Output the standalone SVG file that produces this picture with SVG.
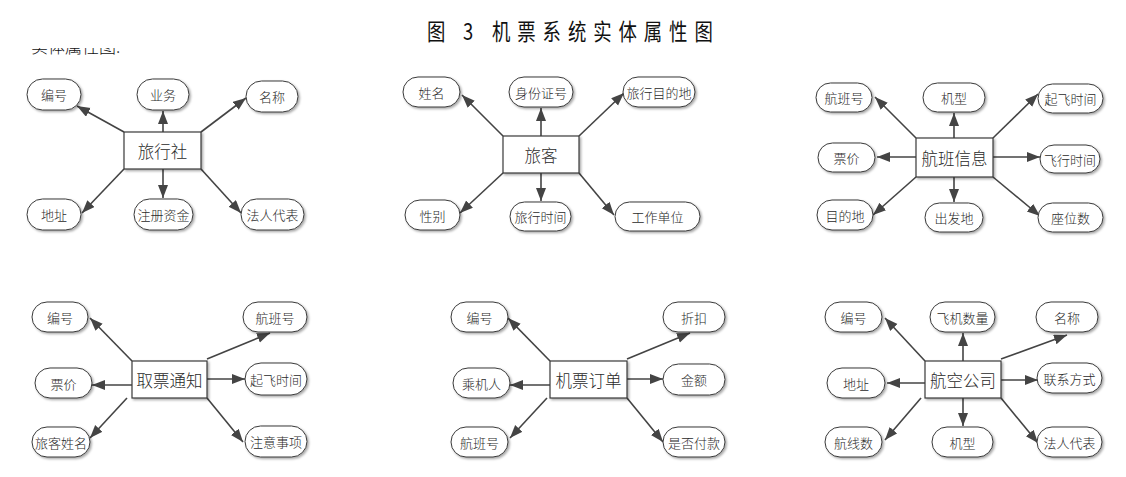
<svg xmlns="http://www.w3.org/2000/svg" width="1126" height="477" viewBox="0 0 1126 477">
<defs>
<style>
.attr rect{fill:#fff;stroke:#3a3a3a;stroke-width:1;filter:url(#sh)}
.ent rect{fill:#fff;stroke:#3a3a3a;stroke-width:1.2;filter:url(#sh)}
text{font-family:"Noto Sans CJK SC","Noto Sans",sans-serif;fill:#2a2a2a;text-anchor:middle;dominant-baseline:central;font-weight:300}
.attr text{font-size:13px}
.ent text{font-size:16.5px}
#connectors line{stroke:#444;stroke-width:1.6;marker-end:url(#ah)}
</style>
<filter id="sh" x="-20%" y="-20%" width="140%" height="150%">
<feDropShadow dx="1.5" dy="1.5" stdDeviation="0.8" flood-color="#000" flood-opacity="0.35"/>
</filter>
<marker id="ah" markerUnits="userSpaceOnUse" markerWidth="14" markerHeight="12" refX="13" refY="5" orient="auto">
<path d="M0,0 L13,5 L0,10 z" fill="#444"/>
</marker>
<clipPath id="cut"><rect x="0" y="48" width="200" height="12"/></clipPath>
</defs>

<text transform="scale(0.8,1)" x="533.75 558.75 578.75 593.75 615 646.6 678.25 709.9 741.5 773.1 804.75 836.4 868" y="40" style="font-size:23px;text-anchor:start;dominant-baseline:alphabetic;fill:#111;font-weight:400">图 3 机票系统实体属性图</text>
<text x="31" y="53" clip-path="url(#cut)" style="font-size:17px;text-anchor:start;dominant-baseline:alphabetic;fill:#111">实体属性图:</text>

<g id="connectors">
<line x1="124" y1="132" x2="77" y2="106"/>
<line x1="163" y1="132" x2="163" y2="111"/>
<line x1="201" y1="132" x2="246" y2="98"/>
<line x1="124" y1="169" x2="82" y2="213"/>
<line x1="163" y1="169" x2="163" y2="198"/>
<line x1="201" y1="169" x2="241" y2="213"/>

<line x1="503" y1="136" x2="462" y2="95"/>
<line x1="541" y1="136" x2="541" y2="108"/>
<line x1="579" y1="136" x2="624" y2="93"/>
<line x1="503" y1="173" x2="460" y2="213"/>
<line x1="541" y1="173" x2="541" y2="201"/>
<line x1="579" y1="173" x2="614" y2="215"/>

<line x1="916" y1="138" x2="875" y2="97"/>
<line x1="954" y1="138" x2="954" y2="113"/>
<line x1="993" y1="138" x2="1038" y2="94"/>
<line x1="916" y1="157" x2="877" y2="157"/>
<line x1="993" y1="157" x2="1040" y2="157"/>
<line x1="916" y1="177" x2="873" y2="215"/>
<line x1="954" y1="177" x2="954" y2="202"/>
<line x1="993" y1="177" x2="1040" y2="216"/>

<line x1="132" y1="361" x2="90" y2="318"/>
<line x1="132" y1="385" x2="92" y2="385"/>
<line x1="127" y1="398" x2="90" y2="438"/>
<line x1="207" y1="359" x2="270" y2="333"/>
<line x1="207" y1="379" x2="245" y2="379"/>
<line x1="207" y1="398" x2="243" y2="442"/>

<line x1="550" y1="361" x2="508" y2="318"/>
<line x1="550" y1="385" x2="510" y2="385"/>
<line x1="547" y1="398" x2="510" y2="438"/>
<line x1="627" y1="359" x2="690" y2="333"/>
<line x1="627" y1="379" x2="663" y2="379"/>
<line x1="627" y1="398" x2="663" y2="442"/>

<line x1="925" y1="361" x2="885" y2="318"/>
<line x1="963" y1="361" x2="963" y2="333"/>
<line x1="1001" y1="359" x2="1067" y2="335"/>
<line x1="925" y1="383" x2="887" y2="383"/>
<line x1="1001" y1="380" x2="1038" y2="380"/>
<line x1="921" y1="398" x2="885" y2="440"/>
<line x1="963" y1="398" x2="963" y2="426"/>
<line x1="1001" y1="398" x2="1038" y2="443"/>
</g>

<!-- 旅行社 -->
<g id="e1" class="ent"><rect x="124" y="132" width="77" height="37"/><text x="162.5" y="150.5">旅行社</text></g>
<g id="e1a1" class="attr"><rect x="27" y="79" width="54" height="31" rx="15.5"/><text x="54" y="94.5">编号</text></g>
<g id="e1a2" class="attr"><rect x="137" y="79" width="52" height="31" rx="15.5"/><text x="163" y="94.5">业务</text></g>
<g id="e1a3" class="attr"><rect x="246" y="81" width="52" height="31" rx="15.5"/><text x="272" y="96.5">名称</text></g>
<g id="e1a4" class="attr"><rect x="27" y="199" width="54" height="31" rx="15.5"/><text x="54" y="214.5">地址</text></g>
<g id="e1a5" class="attr"><rect x="134" y="199" width="59" height="31" rx="15.5"/><text x="163.5" y="214.5">注册资金</text></g>
<g id="e1a6" class="attr"><rect x="241" y="199" width="63" height="31" rx="15.5"/><text x="272.5" y="214.5">法人代表</text></g>

<!-- 旅客 -->
<g id="e2" class="ent"><rect x="503" y="136" width="76" height="37"/><text x="541" y="154.5">旅客</text></g>
<g id="e2a1" class="attr"><rect x="403" y="77" width="57" height="30" rx="15"/><text x="431.5" y="92">姓名</text></g>
<g id="e2a2" class="attr"><rect x="509" y="77" width="64" height="30" rx="15"/><text x="541" y="92">身份证号</text></g>
<g id="e2a3" class="attr"><rect x="623" y="77" width="72" height="30" rx="15"/><text x="659" y="92">旅行目的地</text></g>
<g id="e2a4" class="attr"><rect x="405" y="200" width="55" height="30" rx="15"/><text x="432.5" y="215">性别</text></g>
<g id="e2a5" class="attr"><rect x="510" y="202" width="61" height="29" rx="14.5"/><text x="540.5" y="216.5">旅行时间</text></g>
<g id="e2a6" class="attr"><rect x="615" y="202" width="85" height="29" rx="14.5"/><text x="657.5" y="216.5">工作单位</text></g>

<!-- 航班信息 -->
<g id="e3" class="ent"><rect x="916" y="138" width="77" height="39"/><text x="954.5" y="157.5">航班信息</text></g>
<g id="e3a1" class="attr"><rect x="816" y="83" width="56" height="29" rx="14.5"/><text x="844" y="97.5">航班号</text></g>
<g id="e3a2" class="attr"><rect x="923" y="83" width="62" height="29" rx="14.5"/><text x="954" y="97.5">机型</text></g>
<g id="e3a3" class="attr"><rect x="1038" y="84" width="65" height="29" rx="14.5"/><text x="1070.5" y="98.5">起飞时间</text></g>
<g id="e3a4" class="attr"><rect x="818" y="143" width="57" height="29" rx="14.5"/><text x="846.5" y="157.5">票价</text></g>
<g id="e3a5" class="attr"><rect x="1040" y="145" width="60" height="28" rx="14"/><text x="1070" y="159">飞行时间</text></g>
<g id="e3a6" class="attr"><rect x="817" y="200" width="56" height="30" rx="15"/><text x="845" y="215">目的地</text></g>
<g id="e3a7" class="attr"><rect x="925" y="203" width="58" height="29" rx="14.5"/><text x="954" y="217.5">出发地</text></g>
<g id="e3a8" class="attr"><rect x="1038" y="203" width="65" height="29" rx="14.5"/><text x="1070.5" y="217.5">座位数</text></g>

<!-- 取票通知 -->
<g id="e4" class="ent"><rect x="132" y="361" width="75" height="37"/><text x="169.5" y="379.5">取票通知</text></g>
<g id="e4a1" class="attr"><rect x="32" y="302" width="56" height="30" rx="15"/><text x="60" y="317">编号</text></g>
<g id="e4a2" class="attr"><rect x="35" y="368" width="57" height="30" rx="15"/><text x="63.5" y="383">票价</text></g>
<g id="e4a3" class="attr"><rect x="32" y="427" width="58" height="30" rx="15"/><text x="61" y="442">旅客姓名</text></g>
<g id="e4a4" class="attr"><rect x="243" y="302" width="64" height="30" rx="15"/><text x="275" y="317">航班号</text></g>
<g id="e4a5" class="attr"><rect x="245" y="363" width="62" height="32" rx="16"/><text x="276" y="379">起飞时间</text></g>
<g id="e4a6" class="attr"><rect x="245" y="426" width="62" height="31" rx="15.5"/><text x="276" y="441.5">注意事项</text></g>

<!-- 机票订单 -->
<g id="e5" class="ent"><rect x="550" y="361" width="77" height="37"/><text x="588.5" y="379.5">机票订单</text></g>
<g id="e5a1" class="attr"><rect x="451" y="302" width="57" height="30" rx="15"/><text x="479.5" y="317">编号</text></g>
<g id="e5a2" class="attr"><rect x="453" y="368" width="57" height="30" rx="15"/><text x="481.5" y="383">乘机人</text></g>
<g id="e5a3" class="attr"><rect x="451" y="427" width="57" height="30" rx="15"/><text x="479.5" y="442">航班号</text></g>
<g id="e5a4" class="attr"><rect x="663" y="302" width="62" height="30" rx="15"/><text x="694" y="317">折扣</text></g>
<g id="e5a5" class="attr"><rect x="663" y="364" width="62" height="31" rx="15.5"/><text x="694" y="379.5">金额</text></g>
<g id="e5a6" class="attr"><rect x="663" y="427" width="62" height="30" rx="15"/><text x="694" y="442">是否付款</text></g>

<!-- 航空公司 -->
<g id="e6" class="ent"><rect x="925" y="361" width="76" height="37"/><text x="963" y="379.5">航空公司</text></g>
<g id="e6a1" class="attr"><rect x="825" y="302" width="57" height="30" rx="15"/><text x="853.5" y="317">编号</text></g>
<g id="e6a2" class="attr"><rect x="930" y="302" width="65" height="30" rx="15"/><text x="962.5" y="317">飞机数量</text></g>
<g id="e6a3" class="attr"><rect x="1036" y="302" width="62" height="30" rx="15"/><text x="1067" y="317">名称</text></g>
<g id="e6a4" class="attr"><rect x="827" y="368" width="58" height="30" rx="15"/><text x="856" y="383">地址</text></g>
<g id="e6a5" class="attr"><rect x="1037" y="363" width="65" height="30" rx="15"/><text x="1069.5" y="378">联系方式</text></g>
<g id="e6a6" class="attr"><rect x="825" y="427" width="57" height="30" rx="15"/><text x="853.5" y="442">航线数</text></g>
<g id="e6a7" class="attr"><rect x="932" y="427" width="61" height="30" rx="15"/><text x="962.5" y="442">机型</text></g>
<g id="e6a8" class="attr"><rect x="1037" y="427" width="65" height="30" rx="15"/><text x="1069.5" y="442">法人代表</text></g>
</svg>
